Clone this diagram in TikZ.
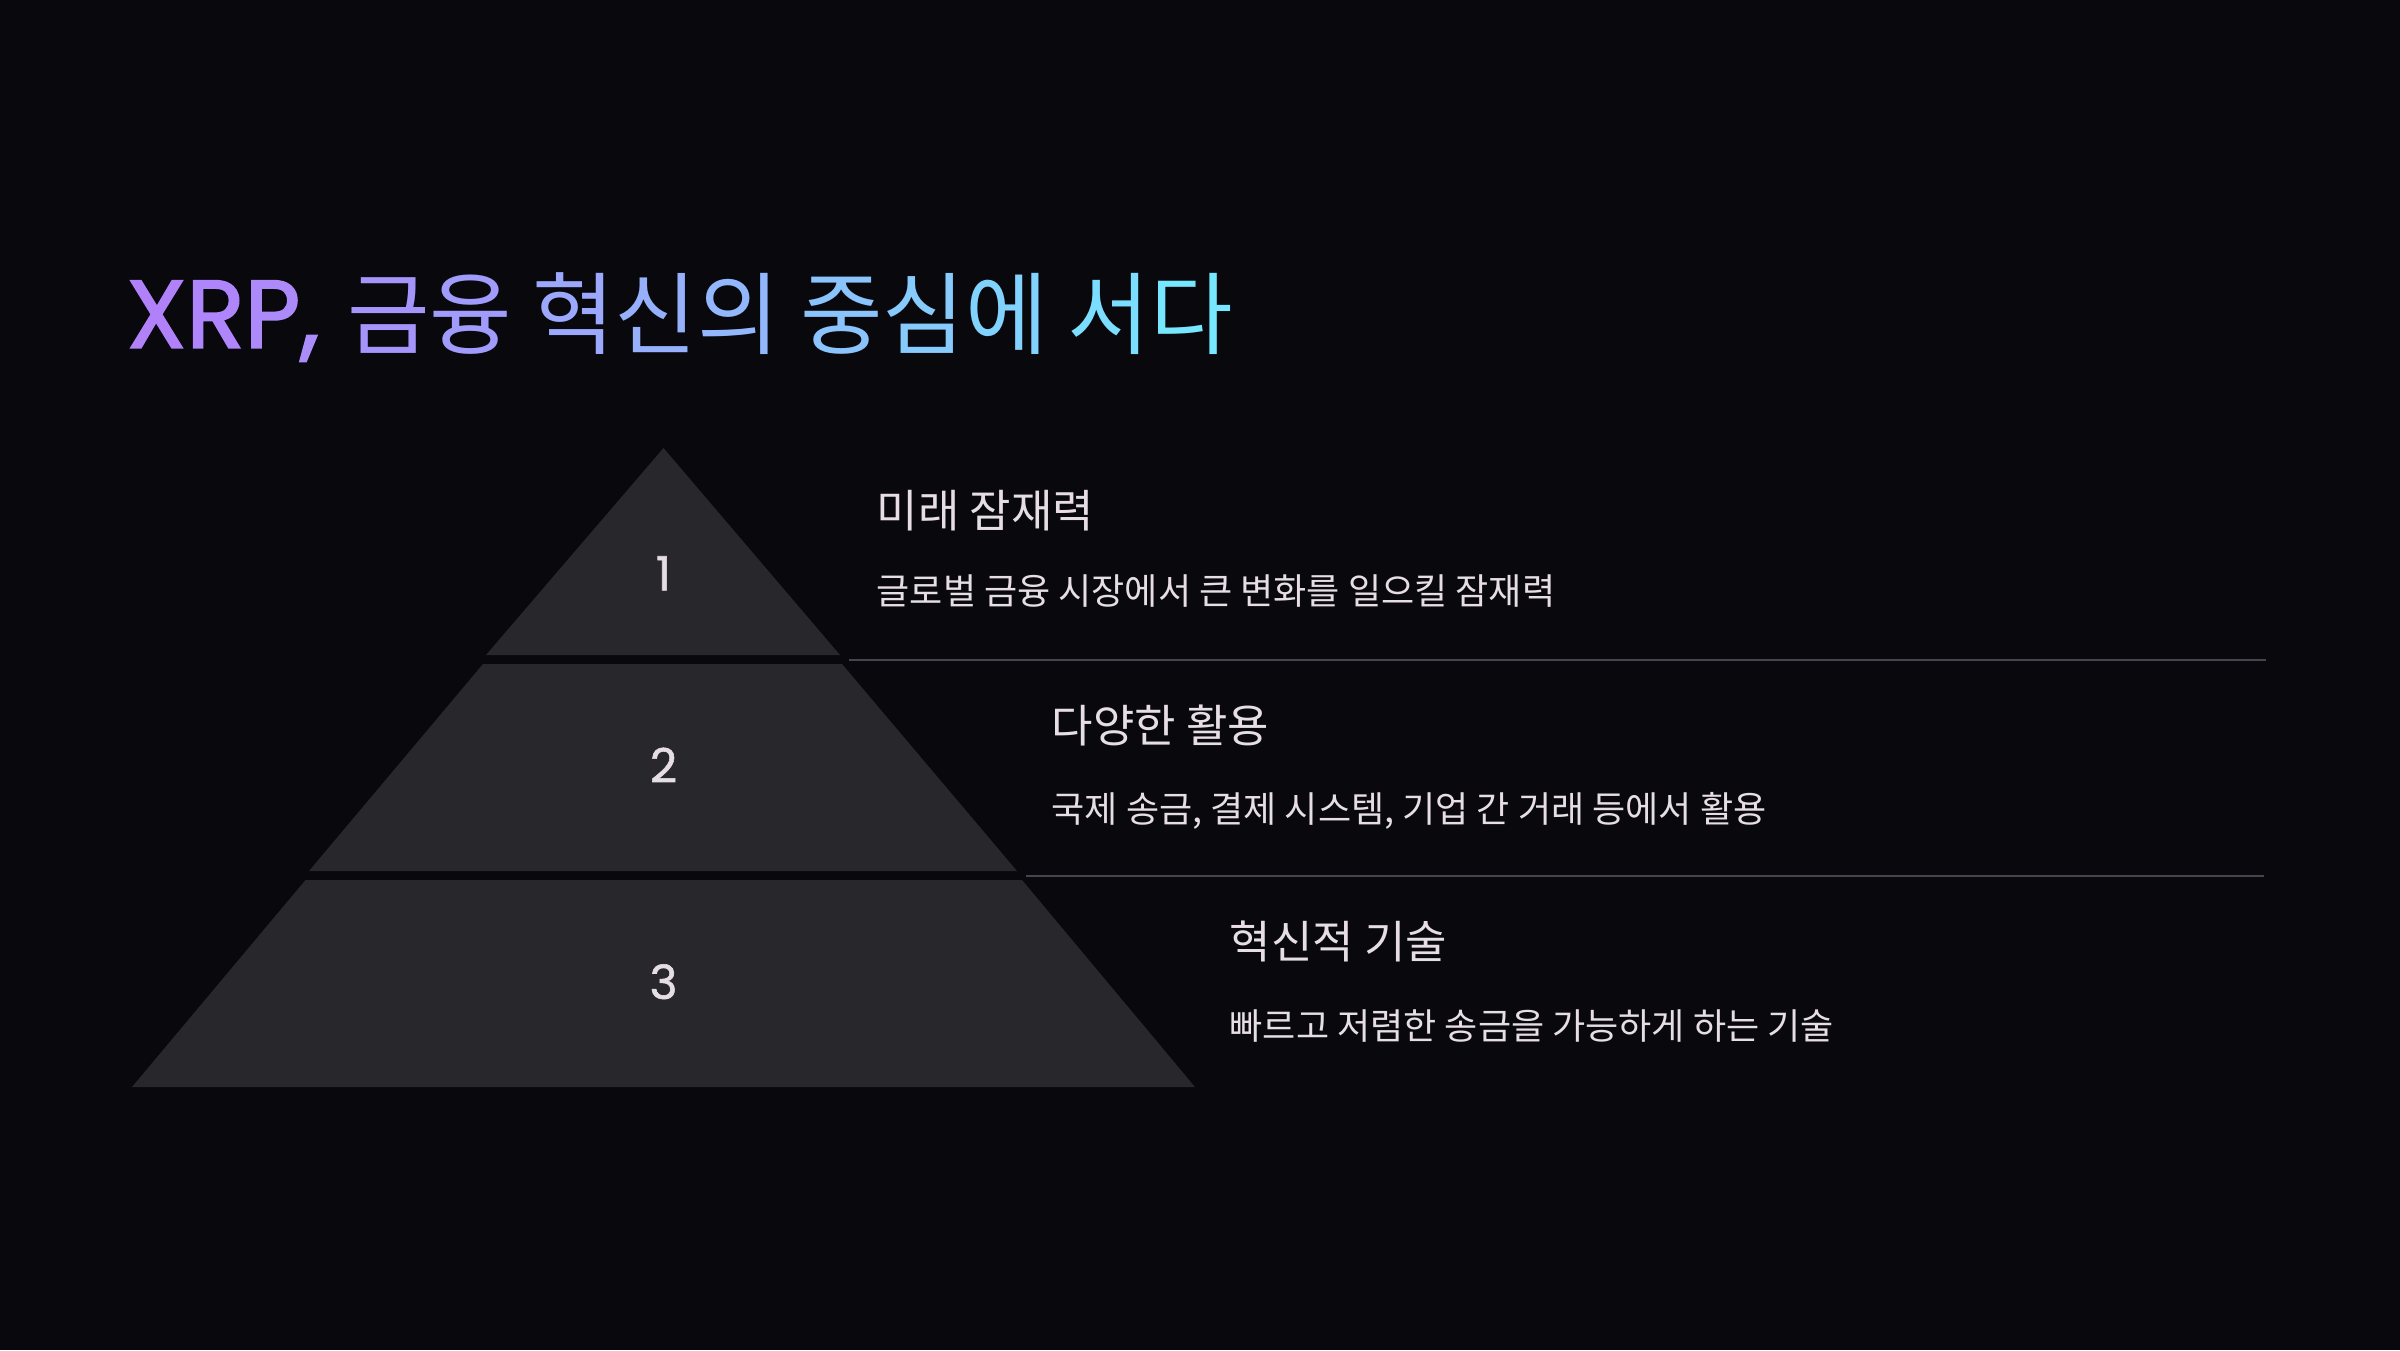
\documentclass[tikz,border=0pt]{standalone}
\usepackage{fontspec}
\setmainfont{Noto Sans CJK KR}
\newfontfamily\latinfont{Poppins}[FakeBold=1.2]
\newfontfamily\titlelatin{Poppins}[FakeBold=2]
\definecolor{bgc}{HTML}{08080D}
\definecolor{tierc}{HTML}{27272C}
\definecolor{linec}{HTML}{45454D}
\definecolor{txtc}{HTML}{E6DEE4}
\definecolor{tStart}{HTML}{B27FFA}
\definecolor{tEnd}{HTML}{74EBFF}
\newcommand\gch[2]{{\color{tStart!#1!tEnd}#2}}
\tikzset{
  tier/.style={fill=tierc, draw=none},
  sepline/.style={draw=linec, line width=0.02cm},
  numtxt/.style={text=txtc, font=\latinfont\fontsize{13.4}{15}\selectfont, inner sep=0},
  headtxt/.style={text=txtc, font=\fontsize{12.8}{14}\selectfont, inner sep=0, anchor=base west},
  desctxt/.style={text=txtc, font=\fontsize{10.25}{12}\selectfont, inner sep=0, anchor=base west},
}
\begin{document}
\begin{tikzpicture}[x=0.01cm,y=-0.01cm]
\useasboundingbox (0,0) rectangle (2400,1350);
\fill[bgc] (0,0) rectangle (2400,1350);
% title
\node[anchor=base west, inner sep=0, font=\fontsize{25.5}{28}\selectfont] (title) at (126,347.7)
 {{\titlelatin\fontsize{27.3}{28}\selectfont\gch{98}{X}\gch{94}{R}\gch{90}{P}\gch{87}{,}}\hspace{0.08cm} \gch{80}{금}\gch{73}{융} \gch{62}{혁}\gch{55}{신}\gch{48}{의} \gch{37}{중}\gch{30}{심}\gch{23}{에} \gch{12}{서}\gch{4}{다}};
% pyramid tiers
\path[tier] (663.5,448) -- (840,655) -- (486,655) -- cycle;
\path[tier] (483,664) -- (842,664) -- (1017,871) -- (309,871) -- cycle;
\path[tier] (305.5,880) -- (1022,880) -- (1195,1087) -- (132,1087) -- cycle;
\node[numtxt] (n1) at (663.5,573.3) {1};
\node[numtxt] (n2) at (663.5,765) {2};
\node[numtxt] (n3) at (663.5,981.7) {3};
% separators
\coordinate (l1a) at (849,660);
\coordinate (l1b) at (2266,660);
\coordinate (l2a) at (1026,876);
\coordinate (l2b) at (2264,876);
\draw[sepline] (l1a) -- (l1b);
\draw[sepline] (l2a) -- (l2b);
% texts
\node[headtxt] (h1) at (876,527) {미래 잠재력};
\node[desctxt] (d1) at (876,604) {글로벌 금융 시장에서 큰 변화를 일으킬 잠재력};
\node[headtxt] (h2) at (1051,742) {다양한 활용};
\node[desctxt] (d2) at (1051,822.5) {국제 송금, 결제 시스템, 기업 간 거래 등에서 활용};
\node[headtxt] (h3) at (1229,958.5) {혁신적 기술};
\node[desctxt] (d3) at (1229,1039.5) {빠르고 저렴한 송금을 가능하게 하는 기술};
\end{tikzpicture}
\end{document}
